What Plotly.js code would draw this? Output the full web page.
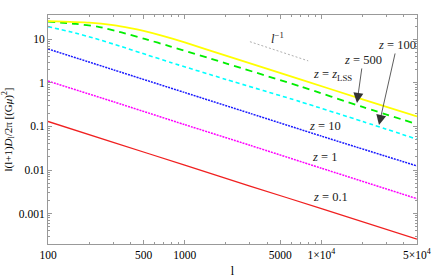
<!DOCTYPE html>
<html>
<head>
<meta charset="utf-8">
<script src="https://cdn.plot.ly/plotly-3.0.1.min.js"></script>
<style>html,body{margin:0;padding:0;background:#fff}#chart{width:436px;height:278px}</style>
</head>
<body>
<div id="chart"></div>
<script>
// ---- data ----
const lRed = [100, 300, 1000, 3000, 10000, 50000];
const zRed = [0.13, 0.043, 0.013, 0.0043, 0.0013, 0.00026];          // z = 0.1
const lMag = [100, 300, 1000, 3000, 10000, 50000];
const zMag = [1.1, 0.37, 0.11, 0.037, 0.011, 0.0022];                 // z = 1
const lBlue = [100, 300, 1000, 3000, 10000, 50000];
const zBlue = [6.0, 2.0, 0.6, 0.2, 0.06, 0.0124];                    // z = 10
const lCyan = [100, 145, 220, 345, 540, 800, 2000, 7000, 20000, 50000];
const zCyan = [19.5, 14.9, 10.5, 6.8, 4.3, 2.9, 1.2, 0.37, 0.13, 0.051];   // z = 100
const lGreen = [100, 160, 230, 345, 510, 780, 2000, 7000, 20000, 50000];
const zGreen = [25.5, 22.5, 19.5, 14.4, 10.2, 6.9, 2.8, 0.83, 0.28, 0.113]; // z = 500
const lYel = [100, 200, 300, 400, 500, 700, 1000, 2000, 7000, 20000, 50000];
const zYel = [26, 24, 21, 18, 15.5, 11.8, 8.5, 4.2, 1.2, 0.42, 0.17];      // z = z_LSS
const lSlope = [3000, 8000];
const zSlope = [8.8, 3.2];                                           // l^-1 guide

const xTickVals = [100, 500, 1000, 5000, 10000, 50000];
const xTickText = ['100', '500', '1000', '5000', '1\u00d710<sup>4</sup>', '5\u00d710<sup>4</sup>'];
const yTickVals = [0.001, 0.01, 0.1, 1, 10];
const yTickText = ['0.001', '0.01', '0.1', '1', '10'];

// minor tick positions (decorations)
const xMinor = [];
for (let d = 2; d <= 4; d++) for (let k = 2; k <= 9; k++) { const v = k * Math.pow(10, d); if (v < 50000 && k !== 5) xMinor.push(v); }
const yMinor = [];
for (let d = -4; d <= 1; d++) for (let k = 2; k <= 9; k++) yMinor.push(k * Math.pow(10, d));

const serif = 'Liberation Serif, Times New Roman, serif';
function tr(x, y, color, width, dash) {
  return {x: x, y: y, type: 'scatter', mode: 'lines', line: {color: color, width: width, dash: dash, shape: 'spline', smoothing: 0.6}, hoverinfo: 'skip', showlegend: false};
}
const traces = [
  tr(lRed, zRed, '#f02020', 1.3, 'solid'),
  tr(lMag, zMag, '#ff00ff', 1.5, '2px,1px'),
  tr(lBlue, zBlue, '#1a1aff', 1.5, '2px,1px'),
  tr(lCyan, zCyan, '#00ffff', 1.6, '4px,3px'),
  tr(lGreen, zGreen, '#00ee00', 1.8, '7px,5px'),
  tr(lYel, zYel, '#ffff00', 1.8, 'solid'),
  tr(lSlope, zSlope, '#b0b0b0', 1, '2px,2px')
];

const axisCommon = {
  type: 'log', showgrid: false, zeroline: false, showline: true, linecolor: '#999', linewidth: 1,
  ticks: 'inside', ticklen: 4, tickcolor: '#999', mirror: 'allticks', tickmode: 'array',
  tickfont: {family: serif, size: 11.5, color: '#000'}
};
const lblFont = {family: serif, size: 12.5, color: '#222'};
const layout = {
  width: 436, height: 278,
  margin: {l: 48, r: 19, t: 15, b: 34},
  paper_bgcolor: '#fff', plot_bgcolor: '#fff',
  xaxis: Object.assign({}, axisCommon, {
    range: [2, Math.log10(50000)], tickvals: xTickVals, ticktext: xTickText,
    minor: {tickmode: 'array', tickvals: xMinor, ticks: 'inside', ticklen: 2, tickcolor: '#999'},
    title: {text: 'l', font: {family: serif, size: 12, color: '#000'}, standoff: 6}
  }),
  yaxis: Object.assign({}, axisCommon, {
    range: [-3.697, 1.557], tickvals: yTickVals, ticktext: yTickText,
    minor: {tickmode: 'array', tickvals: yMinor, ticks: 'inside', ticklen: 2, tickcolor: '#999'},
    title: {text: 'l(l+1)<i>D</i><sub>l</sub>/2\u03c0 [(G<i>\u03bc</i>)<sup>2</sup>]', font: {family: serif, size: 11, color: '#000'}, standoff: 4}
  }),
  annotations: [
    {xref: 'x', yref: 'y', x: 4.063, y: -2.617, text: '<i>z</i> = 0.1', showarrow: false, font: lblFont},
    {xref: 'x', yref: 'y', x: 4.019, y: -1.700, text: '<i>z</i> = 1', showarrow: false, font: lblFont},
    {xref: 'x', yref: 'y', x: 4.026, y: -0.989, text: '<i>z</i> = 10', showarrow: false, font: lblFont},
    {xref: 'x', yref: 'y', x: 4.078, y: 0.181, text: '<i>z</i> = <i>z</i><sub>LSS</sub>', showarrow: false, font: lblFont},
    {xref: 'x', yref: 'y', x: 4.260, y: -0.461, text: '<i>z</i> = 500', showarrow: true,
      ax: 6, ay: -43, arrowhead: 2, arrowsize: 2.5, arrowwidth: 0.8, arrowcolor: '#333', standoff: 0, font: lblFont},
    {xref: 'x', yref: 'y', x: 4.421, y: -0.966, text: '<i>z</i> = 100', showarrow: true,
      ax: 18, ay: -80, arrowhead: 2, arrowsize: 2.5, arrowwidth: 0.8, arrowcolor: '#333', standoff: 0, font: lblFont},
    {xref: 'x', yref: 'y', x: 3.675, y: 1.03, text: '<i>l</i><sup>\u22121</sup>', showarrow: false, font: lblFont}
  ]
};
Plotly.newPlot('chart', traces, layout, {staticPlot: true, displayModeBar: false});
</script>
</body>
</html>
